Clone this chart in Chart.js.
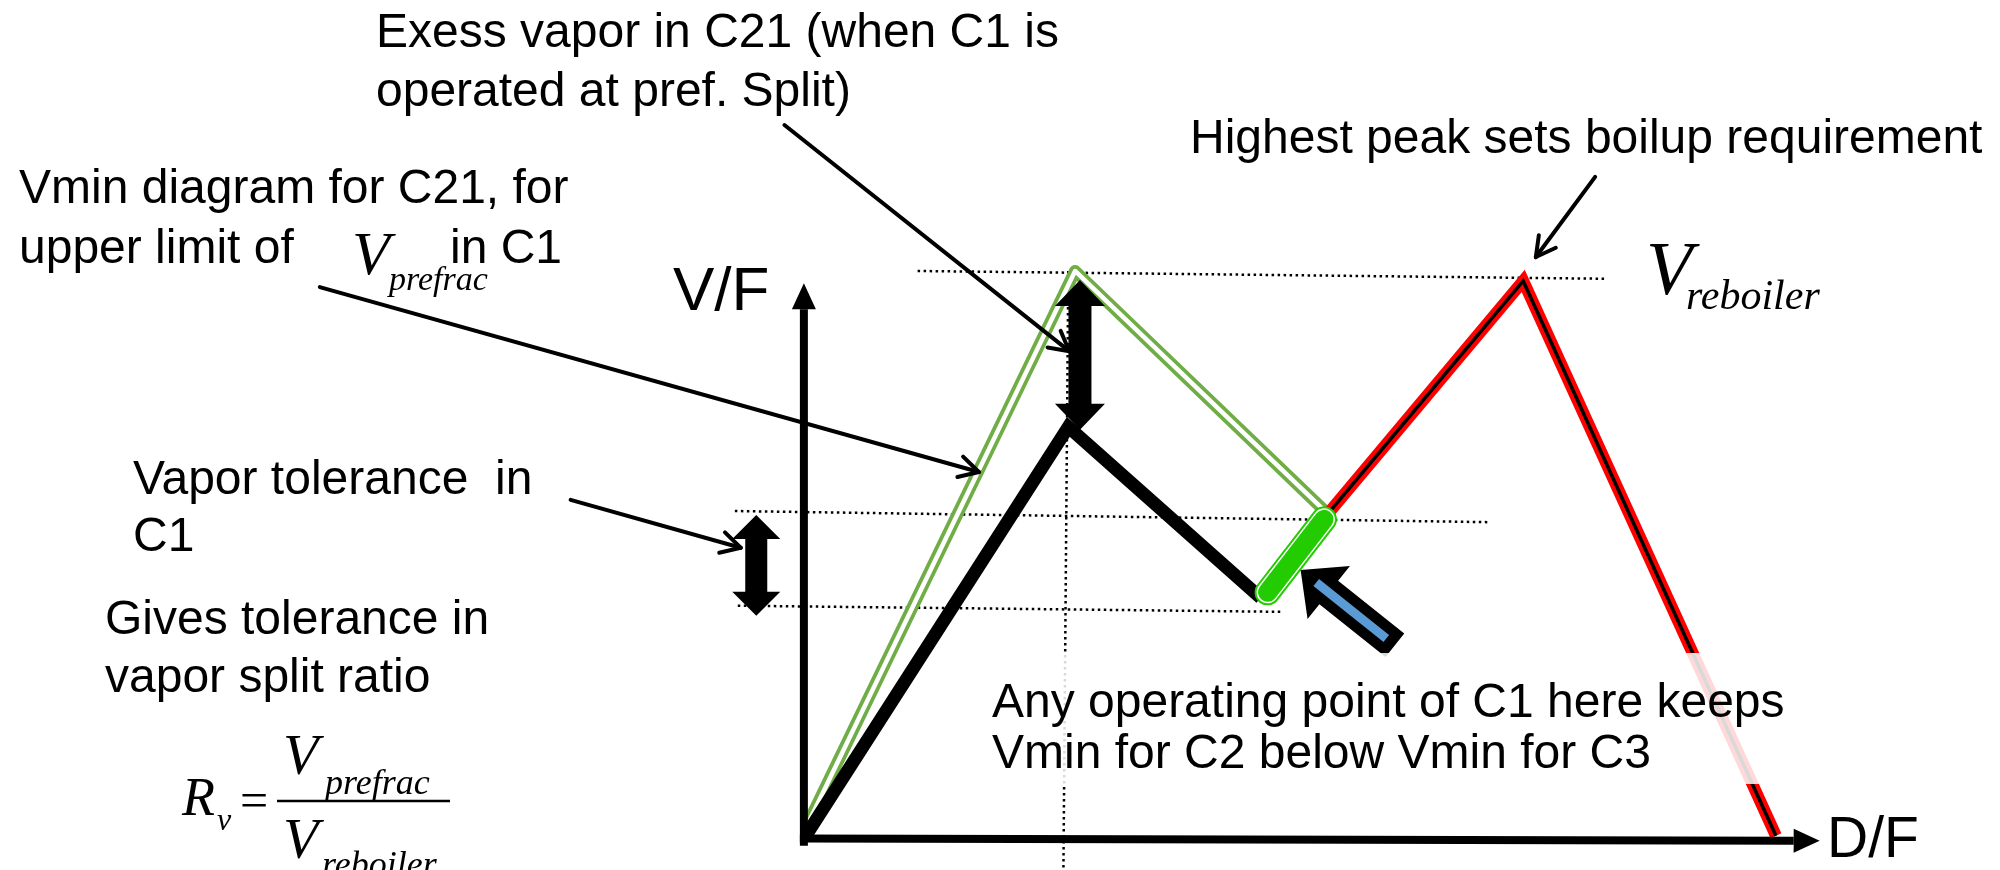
<!DOCTYPE html>
<html>
<head>
<meta charset="utf-8">
<script src="https://cdn.jsdelivr.net/npm/chart.js@4.4.1/dist/chart.umd.min.js"></script>
<style>
  html, body { margin: 0; padding: 0; background: #fff; }
  #wrap { width: 2000px; height: 870px; }
</style>
</head>
<body>
<div id="wrap"><canvas id="vmin" width="2000" height="870"></canvas></div>
<script>
// Vmin diagram: x = D/F, y = V/F (1 = V reboiler peak).
const axisX = [[0, -0.001], [1.045, -0.005]];
const axisY = [[0, -0.007], [0, 0.996]];

const c3Line = [[0.539, 0.582], [0.740, 1.000], [1.000, 0.004]];   // red, sets boilup
const c21Upper = [[0.002, 0.018], [0.279, 1.018], [0.539, 0.582]]; // green, upper limit of V prefrac
const c21Pref = [[0.002, 0.004], [0.272, 0.738], [0.470, 0.431]];  // black, preferred split
const tolSegment = [[0.477, 0.441], [0.535, 0.572]];               // operating window

const guideTop = [[0.117, 1.018], [0.825, 1.004]];
const guideMid = [[-0.071, 0.587], [0.704, 0.567]];
const guideLow = [[-0.068, 0.417], [0.493, 0.406]];
const guideVert = [[0.272, 1.018], [0.267, -0.058]];

const excessArrow = [[0.284, 1.002], [0.284, 0.733]];
const toleranceArrow = [[-0.049, 0.580], [-0.049, 0.399]];
const operatingArrow = [[0.608, 0.346], [0.511, 0.481]]; // tail, tip

const pointers = [
  [[-0.020, 1.280], [0.273, 0.874]],
  [[-0.498, 0.989], [0.180, 0.657]],
  [[-0.240, 0.607], [-0.065, 0.521]],
  [[0.814, 1.187], [0.753, 1.043]]
];

const SANS = '"Liberation Sans", Arial, sans-serif';
const SERIF = '"Liberation Serif", "Times New Roman", serif';

const notes = [
  ['Exess vapor in C21 (when C1 is', 376, 47],
  ['operated at pref. Split)', 376, 106],
  ['Highest peak sets boilup requirement', 1190, 153],
  ['Vmin diagram for C21, for', 19, 203],
  ['upper limit of', 19, 263],
  ['in C1', 450, 263],
  ['Vapor tolerance  in', 133, 494],
  ['C1', 133, 551],
  ['Gives tolerance in', 105, 634],
  ['vapor split ratio', 105, 692],
  ['Any operating point of C1 here keeps', 992, 717],
  ['Vmin for C2 below Vmin for C3', 992, 768]
];

const mathText = [
  ['V', 352, 274, 62], ['prefrac', 389, 290, 34],
  ['V', 1646, 294, 76], ['reboiler', 1686, 309, 42],
  ['R', 182, 815, 54], ['v', 217, 830, 32],
  ['V', 283, 774, 58], ['prefrac', 325, 794, 36],
  ['V', 283, 858, 58], ['reboiler', 322, 876, 36]
];

const pts = arr => arr.map(([x, y]) => ({ x, y }));

function seg(data, color, width, extra) {
  return Object.assign({
    data: pts(data), showLine: true, borderColor: color, borderWidth: width,
    pointRadius: 0, fill: false, tension: 0, borderJoinStyle: 'miter', borderCapStyle: 'butt'
  }, extra || {});
}

const dotted = { borderDash: [2.5, 3.5] };

// bottom layer first
const layers = [
  seg(guideTop, '#000', 2.5, dotted),
  seg(guideMid, '#000', 2.5, dotted),
  seg(guideLow, '#000', 2.5, dotted),
  seg(guideVert, '#000', 2.5, dotted),
  seg(c21Upper, '#70AD47', 12, { borderJoinStyle: 'round' }),
  seg(c21Upper, '#ffffff', 4.5, { borderJoinStyle: 'round' }),
  seg(c3Line, '#FF0000', 12),
  seg(c3Line, '#000000', 3.5),
  seg(c21Pref, '#000000', 13),
  seg(tolSegment, '#22CC00', 26, { borderCapStyle: 'round' }),
  seg(tolSegment, '#ffffff', 22, { borderCapStyle: 'round' }),
  seg(tolSegment, '#22CC00', 19, { borderCapStyle: 'round' })
];
layers.forEach((d, i) => { d.order = layers.length - i; });

function unit(a, b) {
  const dx = b[0] - a[0], dy = b[1] - a[1];
  const l = Math.hypot(dx, dy);
  return [dx / l, dy / l];
}

function poly(ctx, list, color) {
  ctx.beginPath();
  list.forEach((p, i) => (i ? ctx.lineTo(p[0], p[1]) : ctx.moveTo(p[0], p[1])));
  ctx.closePath();
  ctx.fillStyle = color;
  ctx.fill();
}

const diagram = {
  id: 'diagram',
  afterDatasetsDraw(chart) {
    const { ctx, scales: { x, y } } = chart;
    const P = p => [x.getPixelForValue(p[0]), y.getPixelForValue(p[1])];
    ctx.save();

    // axes with solid heads
    [[axisX, 26, 24], [axisY, 26, 24]].forEach(([a, len, w]) => {
      const s = P(a[0]), t = P(a[1]);
      const u = unit(s, t), n = [-u[1], u[0]];
      const b = [t[0] - u[0] * len, t[1] - u[1] * len];
      ctx.beginPath();
      ctx.moveTo(s[0] - u[0] * 4, s[1] - u[1] * 4);
      ctx.lineTo(b[0], b[1]);
      ctx.lineWidth = 8;
      ctx.strokeStyle = '#000';
      ctx.lineCap = 'butt';
      ctx.stroke();
      poly(ctx, [t, [b[0] + n[0] * w / 2, b[1] + n[1] * w / 2], [b[0] - n[0] * w / 2, b[1] - n[1] * w / 2]], '#000');
    });

    // thin pointer arrows with open heads
    ctx.strokeStyle = '#000';
    ctx.lineWidth = 4;
    ctx.lineCap = 'round';
    pointers.forEach(pr => {
      const s = P(pr[0]), t = P(pr[1]);
      const u = unit(s, t);
      ctx.beginPath();
      ctx.moveTo(s[0], s[1]);
      ctx.lineTo(t[0], t[1]);
      ctx.stroke();
      [0.5, -0.5].forEach(ang => {
        const c = Math.cos(ang), sn = Math.sin(ang);
        const bx = -(u[0] * c - u[1] * sn), by = -(u[0] * sn + u[1] * c);
        ctx.beginPath();
        ctx.moveTo(t[0], t[1]);
        ctx.lineTo(t[0] + bx * 22, t[1] + by * 22);
        ctx.stroke();
      });
    });

    // double headed block arrows
    [[excessArrow, 23, 50, 26], [toleranceArrow, 22, 48, 24]].forEach(([a, sw, hw, hl]) => {
      const p0 = P(a[0]), p1 = P(a[1]);
      const u = unit(p0, p1), n = [-u[1], u[0]];
      const q = (p, along, side) => [p[0] + u[0] * along + n[0] * side, p[1] + u[1] * along + n[1] * side];
      poly(ctx, [
        p0, q(p0, hl, hw / 2), q(p0, hl, sw / 2), q(p1, -hl, sw / 2), q(p1, -hl, hw / 2),
        p1, q(p1, -hl, -hw / 2), q(p1, -hl, -sw / 2), q(p0, hl, -sw / 2), q(p0, hl, -hw / 2)
      ], '#000');
    });

    // block arrow pointing at the operating window
    {
      const t0 = P(operatingArrow[0]), tip = P(operatingArrow[1]);
      const u = unit(t0, tip), n = [-u[1], u[0]];
      const q = (p, along, side) => [p[0] + u[0] * along + n[0] * side, p[1] + u[1] * along + n[1] * side];
      const sw = 30, hw = 68, hl = 36;
      poly(ctx, [
        q(t0, 0, sw / 2), q(tip, -hl, sw / 2), q(tip, -hl, hw / 2), tip,
        q(tip, -hl, -hw / 2), q(tip, -hl, -sw / 2), q(t0, 0, -sw / 2)
      ], '#000');
      const a = q(t0, 11, 0), b = q(tip, -20, 0);
      ctx.beginPath();
      ctx.moveTo(a[0], a[1]);
      ctx.lineTo(b[0], b[1]);
      ctx.lineWidth = 9;
      ctx.lineCap = 'butt';
      ctx.strokeStyle = '#5B9BD5';
      ctx.stroke();
    }

    // fraction bar of R_v
    ctx.beginPath();
    ctx.moveTo(277, 801);
    ctx.lineTo(450, 801);
    ctx.lineWidth = 2.5;
    ctx.strokeStyle = '#000';
    ctx.stroke();
    ctx.restore();
  },
  afterDraw(chart) {
    const { ctx } = chart;
    ctx.save();
    // text box background fades the lines behind it
    ctx.fillStyle = 'rgba(255,255,255,0.85)';
    ctx.fillRect(985, 653, 815, 131);

    ctx.fillStyle = '#000';
    ctx.textBaseline = 'alphabetic';
    ctx.textAlign = 'left';
    ctx.font = '48px ' + SANS;
    notes.forEach(([t, px, py]) => ctx.fillText(t, px, py));
    ctx.font = '62px ' + SANS;
    ctx.fillText('V/F', 673, 310);
    ctx.font = '57px ' + SANS;
    ctx.fillText('D/F', 1827, 857);

    mathText.forEach(([t, px, py, sz]) => {
      ctx.font = 'italic ' + sz + 'px ' + SERIF;
      ctx.fillText(t, px, py);
    });
    ctx.font = '50px ' + SERIF;
    ctx.fillText('=', 240, 817);
    ctx.restore();
  }
};

new Chart(document.getElementById('vmin'), {
  type: 'scatter',
  data: { datasets: layers },
  options: {
    responsive: false,
    devicePixelRatio: 1,
    animation: false,
    layout: { padding: 0 },
    plugins: { legend: { display: false }, tooltip: { enabled: false } },
    scales: {
      x: { type: 'linear', min: -0.827, max: 1.2305, display: false },
      y: { type: 'linear', min: -0.0575, max: 1.5045, display: false }
    }
  },
  plugins: [diagram]
});
</script>
</body>
</html>
